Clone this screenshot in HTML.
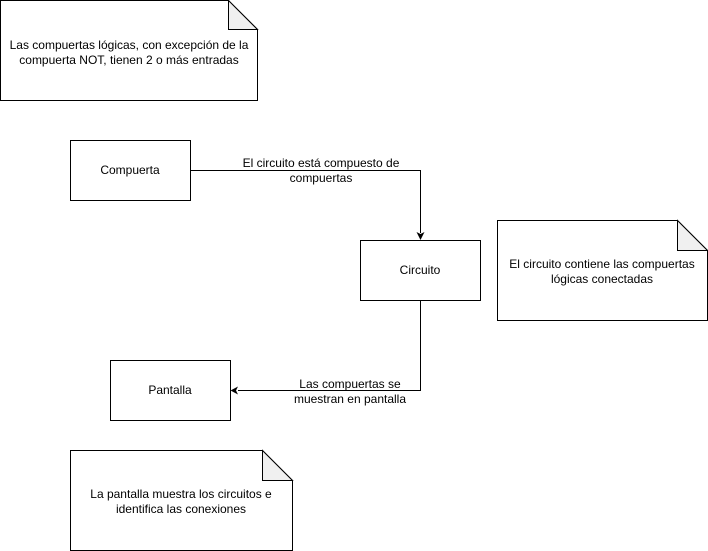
<!DOCTYPE html>
<html><head><meta charset="utf-8"><style>
html,body{margin:0;padding:0;background:#fff;}
svg{display:block;}
text{font-family:"Liberation Sans",Arial,sans-serif;font-size:12px;fill:#000;}
</style></head><body>
<svg width="708" height="551" viewBox="0 0 708 551" xmlns="http://www.w3.org/2000/svg">
<g stroke="#000" stroke-width="1" fill="#fff">
<path d="M0.5 0.5 H228.5 L257.5 29.5 V100.5 H0.5 Z"/>
<path d="M228.5 0.5 V29.5 H257.5 Z" fill="#f0f0f0"/>
<path d="M497.5 220.5 H677.5 L707.5 250.5 V320.5 H497.5 Z"/>
<path d="M677.5 220.5 V250.5 H707.5 Z" fill="#f0f0f0"/>
<path d="M70.5 450.5 H262.5 L292.5 480.5 V550.5 H70.5 Z"/>
<path d="M262.5 450.5 V480.5 H292.5 Z" fill="#f0f0f0"/>
<rect x="70.5" y="140.5" width="120" height="60"/>
<rect x="360.5" y="240.5" width="120" height="60"/>
<rect x="110.5" y="360.5" width="120" height="60"/>
<path d="M190.5 170.5 H420.5 V233" fill="none"/>
<path d="M420.5 300.5 V390.5 H238" fill="none"/>
</g>
<path d="M416.5 232 L420.5 240 L424.5 232 L420.5 234 Z" fill="#000"/>
<path d="M238 386.5 L230.5 390.5 L238 394.5 L236 390.5 Z" fill="#000"/>
<text x="321" y="167" text-anchor="middle">El circuito está compuesto de</text>
<text x="321" y="182" text-anchor="middle">compuertas</text>
<text x="350" y="388" text-anchor="middle">Las compuertas se</text>
<text x="350" y="403" text-anchor="middle">muestran en pantalla</text>
<text x="130" y="174" text-anchor="middle">Compuerta</text>
<text x="420" y="274" text-anchor="middle">Circuito</text>
<text x="170" y="394" text-anchor="middle">Pantalla</text>
<text x="129" y="49" text-anchor="middle">Las compuertas lógicas, con excepción de la</text>
<text x="129" y="64" text-anchor="middle">compuerta NOT, tienen 2 o más entradas</text>
<text x="602" y="268" text-anchor="middle">El circuito contiene las compuertas</text>
<text x="602" y="283" text-anchor="middle">lógicas conectadas</text>
<text x="181" y="498" text-anchor="middle">La pantalla muestra los circuitos e</text>
<text x="181" y="513" text-anchor="middle">identifica las conexiones</text>
</svg>
</body></html>
